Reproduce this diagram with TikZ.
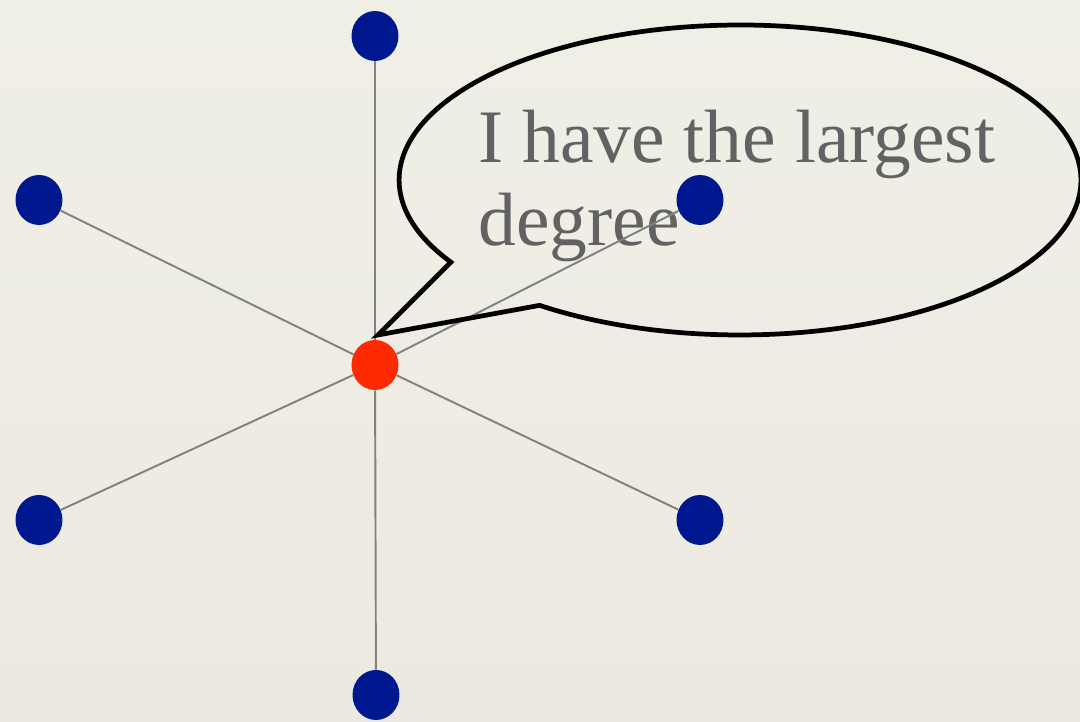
\documentclass[tikz,border=0pt]{standalone}
\usepackage{fontspec}
\usetikzlibrary{shapes.geometric}
\newfontfamily\quotefont{Liberation Serif}
\definecolor{bgcream}{RGB}{240,239,229}
\definecolor{bgfade}{RGB}{236,233,226}
\definecolor{nodeblue}{RGB}{0,24,143}
\definecolor{hubred}{RGB}{255,42,0}
\definecolor{spokegray}{RGB}{128,130,130}
\definecolor{textgray}{RGB}{98,98,98}
\tikzset{
  vertex/.style={ellipse, fill=nodeblue, minimum width=0.94cm, minimum height=1cm, inner sep=0pt},
  hubvertex/.style={vertex, fill=hubred},
  spoke/.style={spokegray, line width=1.1pt},
  bubble/.style={black, line width=2.7pt, line join=miter}
}
\begin{document}
\begin{tikzpicture}[x=0.02cm, y=0.02cm]
  \shade[top color=bgcream, bottom color=bgfade] (0,0) rectangle (1080,722);
  \useasboundingbox (0,0) rectangle (1080,722);

  % the speech text
  \node[anchor=north west, inner sep=0pt, align=left, text=textgray,
        font=\quotefont\fontsize{43}{47}\selectfont] (quote) at (478,612) {I have the largest\\degree};

  % star graph
  \node[hubvertex] (hub) at (375,357) {};
  \node[vertex] (top) at (375,686) {};
  \node[vertex] (bot) at (376,27) {};
  \node[vertex] (ul) at (39,522) {};
  \node[vertex] (ur) at (700,522) {};
  \node[vertex] (ll) at (39,202) {};
  \node[vertex] (lr) at (700,202) {};
  \foreach \leaf in {top,bot,ul,ur,ll,lr}
    \draw[spoke] (hub) -- (\leaf);

  % speech bubble
  \coordinate (bubc) at (740,542);
  \coordinate (tip) at (378,387);
  \draw[bubble] (bubc) ++(234:6.82cm and 3.1cm)
    arc[start angle=234, end angle=572, x radius=6.82cm, y radius=3.1cm]
    -- (tip) -- cycle;
\end{tikzpicture}
\end{document}
